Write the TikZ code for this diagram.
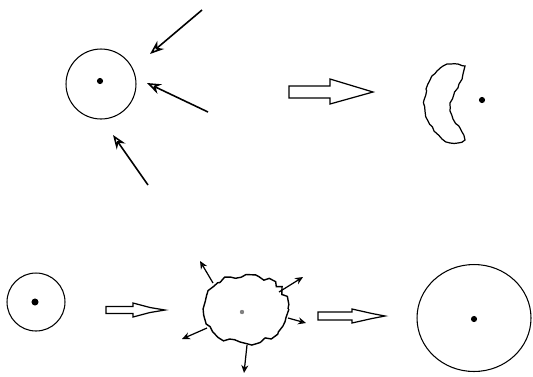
\documentclass[tikz,border=0pt]{standalone}
\usepackage{tikz}
\usetikzlibrary{arrows.meta,positioning,shapes.geometric,decorations.pathmorphing}

\begin{document}
\begin{tikzpicture}[
  x=0.02cm, y=-0.02cm,
  shot/.style={-{Stealth[length=8pt,width=6pt,open]}, line width=0.9pt},
  spray/.style={-{Stealth[length=4.5pt,width=4pt,open]}, line width=0.7pt},
  rim/.style={draw, line width=0.6pt, inner sep=0pt},
  dot/.style={circle, fill, inner sep=0pt, minimum size=3.5pt},
  rough/.style={line width=0.7pt, decorate,
                decoration={random steps, segment length=2.5pt, amplitude=0.6pt}},
  bumpy/.style={line width=0.8pt, decorate,
                decoration={random steps, segment length=3pt, amplitude=1.4pt}},
  hollow/.style={line width=0.7pt, line join=miter},
]
\pgfmathsetseed{7}
\useasboundingbox (0,0) rectangle (533,376);

% Top row
\node[rim, circle, minimum size=1.4cm] (atomA) at (101,84) {};
\node[dot] (nucA) at (100,81) {};
\foreach \sx/\sy/\ex/\ey [count=\i] in {202/10/150/54, 208/112/147/83, 148/185/113/135}
  \draw[shot] (\sx,\sy) coordinate (shotS\i) -- (\ex,\ey) coordinate (shotE\i);

\draw[hollow] (289,86) -- (330,86) -- (330,79) -- (373,92) -- (330,104) -- (330,98) -- (289,98) -- cycle;

\draw[rough] (450,64) -- (458,64) -- (465,66) -- (463,74) -- (459,84) -- (454,94) -- (450,103)
  -- (450,111) -- (453,119) -- (460,128) -- (465,140) -- (458,143) -- (450,143) -- (442,139)
  -- (434,131) -- (428,121) -- (425,111) -- (424,100) -- (426,89) -- (430,80) -- (437,71)
  -- (443,66) -- cycle;
\node[dot] (nucB) at (482,100) {};

% Bottom row
\node[rim, circle, minimum size=1.16cm] (atomC) at (36,302) {};
\node[dot, minimum size=4pt] (nucC) at (35,302) {};

\draw[hollow] (106,306.5) -- (133,306.5) -- (133,303) -- (150,307.5) -- (165,310) -- (150,312.5)
  -- (133,317) -- (133,313.5) -- (106,313.5) -- cycle;

\coordinate (blob) at (246,309);
\draw[bumpy] (blob) ellipse [x radius=0.84cm, y radius=0.68cm];
\node[dot, minimum size=2.5pt, gray] (nucD) at (242,312) {};
\foreach \sx/\sy/\ex/\ey [count=\i] in {213/283/200/261, 279/292/303/277, 288/318/306/323,
    207/328/182/339, 247/345/244/373}
  \draw[spray] (\sx,\sy) coordinate (sprayS\i) -- (\ex,\ey) coordinate (sprayE\i);

\draw[hollow] (318,312) -- (352,312) -- (352,309) -- (372,313.5) -- (385,316) -- (372,318.5)
  -- (352,323) -- (352,320) -- (318,320) -- cycle;

\node[rim, ellipse, minimum width=2.28cm, minimum height=2.14cm] (atomE) at (474,318) {};
\node[dot] (nucE) at (474,319) {};
\end{tikzpicture}
\end{document}
